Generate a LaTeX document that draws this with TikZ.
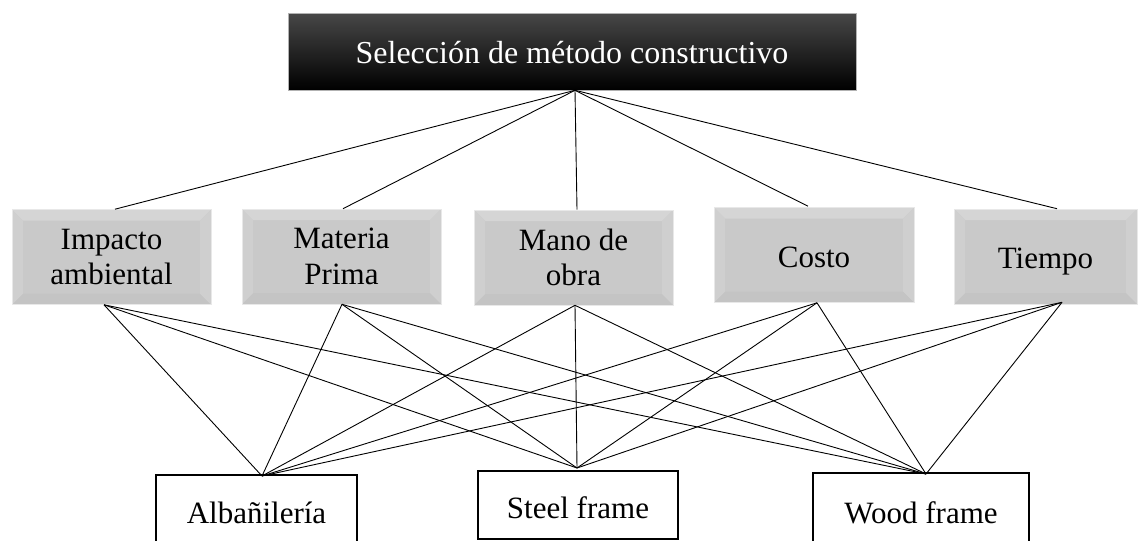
\documentclass[tikz,border=0pt]{standalone}
\usepackage{fontspec}
\setmainfont{Liberation Serif}
\begin{document}
\begin{tikzpicture}[x=1pt,y=-1pt,
  conn/.style={line width=0.9pt,black},
  goalbox/.style={draw=gray!60,line width=0.6pt,top color=black!72,middle color=black,bottom color=black,
    text=white,inner sep=0pt,minimum width=568pt,minimum height=77pt,text height=23pt,text depth=0pt,
    font=\fontsize{32}{36}\selectfont},
  critbox/.style={draw=gray!18,line width=0.6pt,fill=gray!42,inner sep=0pt,minimum height=95pt,
    align=center,font=\fontsize{31}{35.5}\selectfont,
    path picture={
      \fill[gray!33] (path picture bounding box.north west) -- (path picture bounding box.north east)
        -- ([xshift=-11pt,yshift=-11pt]path picture bounding box.north east)
        -- ([xshift=11pt,yshift=-11pt]path picture bounding box.north west) -- cycle;
      \fill[gray!46] (path picture bounding box.south west) -- (path picture bounding box.south east)
        -- ([xshift=-11pt,yshift=11pt]path picture bounding box.south east)
        -- ([xshift=11pt,yshift=11pt]path picture bounding box.south west) -- cycle;
      \fill[gray!38] (path picture bounding box.north west) -- ([xshift=11pt,yshift=-11pt]path picture bounding box.north west)
        -- ([xshift=11pt,yshift=11pt]path picture bounding box.south west) -- (path picture bounding box.south west) -- cycle;
      \fill[gray!38] (path picture bounding box.north east) -- ([xshift=-11pt,yshift=-11pt]path picture bounding box.north east)
        -- ([xshift=-11pt,yshift=11pt]path picture bounding box.south east) -- (path picture bounding box.south east) -- cycle;
    }},
  altbox/.style={draw=black,line width=2pt,fill=white,inner sep=0pt,text depth=0pt,
    font=\fontsize{31}{35}\selectfont}
]
\useasboundingbox (0,0) rectangle (1141,541);

% goal
\node[goalbox] (goal) at (572,51.5) {Selección de método constructivo};

% criteria
\node[critbox,minimum width=199pt] (imp) at (111.5,257) {Impacto\\ambiental};
\node[critbox,minimum width=199pt] (mat) at (341.5,256.5) {Materia\\Prima};
\node[critbox,minimum width=199pt] (mano) at (573.5,257.5) {Mano de\\obra};
\node[critbox,minimum width=200pt,text height=24pt,text depth=0pt] (costo) at (814,255) {Costo};
\node[critbox,minimum width=183pt,text height=23pt,text depth=0pt] (tiempo) at (1045.5,256.5) {Tiempo};

% alternatives
\node[altbox,minimum width=201pt,minimum height=75pt,text height=21pt] (alb) at (256.5,512.5) {Albañilería};
\node[altbox,minimum width=200pt,minimum height=68pt,text height=26pt] (steel) at (578,505) {Steel frame};
\node[altbox,minimum width=216pt,minimum height=78pt,text height=22pt] (wood) at (921,512) {Wood frame};

% connection points
\coordinate (goal-b) at ([xshift=3pt]goal.south);
\coordinate (imp-t) at ([xshift=3.5pt]imp.north);
\coordinate (mat-t) at ([xshift=1.5pt]mat.north);
\coordinate (mano-t) at ([xshift=3.5pt]mano.north);
\coordinate (costo-t) at ([xshift=-6pt,yshift=1pt]costo.north);
\coordinate (tiempo-t) at ([xshift=11.5pt]tiempo.north);
\coordinate (imp-b) at ([xshift=-7.5pt]imp.south);
\coordinate (mat-b) at ([xshift=0.5pt]mat.south);
\coordinate (mano-b) at ([xshift=1.5pt]mano.south);
\coordinate (costo-b) at ([xshift=3pt]costo.south);
\coordinate (tiempo-b) at ([xshift=16.5pt,yshift=2pt]tiempo.south);
\coordinate (alb-t) at ([xshift=5.5pt,yshift=-2pt]alb.north);
\coordinate (steel-t) at ([xshift=-1pt,yshift=2pt]steel.north);
\coordinate (wood-t) at ([xshift=5pt,yshift=-2pt]wood.north);

% goal to criteria
\foreach \c in {imp,mat,mano,costo,tiempo}
  \draw[conn] (goal-b) -- (\c-t);

% criteria to alternatives
\foreach \c in {imp,mat,mano,costo,tiempo}
  \foreach \a in {alb,steel,wood}
    \draw[conn] (\c-b) -- (\a-t);
\end{tikzpicture}
\end{document}
